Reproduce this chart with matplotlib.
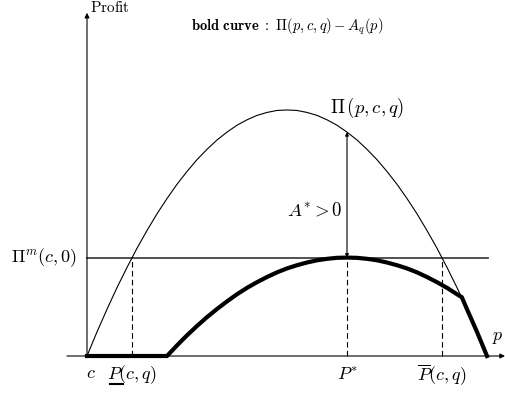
import numpy as np
import matplotlib
matplotlib.use("Agg")
import matplotlib.pyplot as plt

plt.rcParams['mathtext.fontset'] = 'cm'
plt.rcParams['font.family'] = 'serif'
plt.rcParams['font.serif'] = ['cmr10', 'DejaVu Serif']
plt.rcParams['axes.formatter.use_mathtext'] = True

# price grid (c = 0) and the thin profit curve Pi(p,c,q)
p_grid = [0, 0.25, 0.5, 0.75, 1, 1.25, 1.5, 1.75, 2, 2.25, 2.5, 2.75, 3, 3.25,
          3.5, 3.75, 4, 4.25, 4.5, 4.75, 5, 5.25, 5.5, 5.75, 6, 6.25, 6.5, 6.75,
          7, 7.25, 7.5, 7.75, 8, 8.25, 8.5, 8.75, 9, 9.25, 9.5, 9.75, 10]
profit = [0, 0.98, 1.9, 2.78, 3.6, 4.38, 5.1, 5.78, 6.4, 6.98, 7.5, 7.98, 8.4, 8.78,
          9.1, 9.38, 9.6, 9.78, 9.9, 9.98, 10, 9.98, 9.9, 9.78, 9.6, 9.38, 9.1, 8.78,
          8.4, 7.98, 7.5, 6.98, 6.4, 5.78, 5.1, 4.38, 3.6, 2.78, 1.9, 0.98, 0]

# bold curve Pi(p,c,q) - A_q(p)
bold_p = [0, 2, 2.25, 2.5, 2.75, 3, 3.25, 3.5, 3.75, 4, 4.25, 4.5, 4.75, 5, 5.25,
          5.5, 5.75, 6, 6.25, 6.5, 6.75, 7, 7.25, 7.5, 7.75, 8, 8.25, 8.5, 8.75,
          9, 9.25, 9.37, 9.5, 9.75, 10]
bold_v = [0, 0, 0.43, 0.84, 1.22, 1.58, 1.91, 2.22, 2.51, 2.77, 3.0, 3.21, 3.40,
          3.56, 3.69, 3.80, 3.89, 3.95, 3.99, 4.0, 3.99, 3.95, 3.89, 3.80, 3.69,
          3.56, 3.40, 3.21, 3.0, 2.77, 2.51, 2.39, 1.9, 0.98, 0]

pi_m = 4.0          # Pi^m(c,0)
p_low = 1.13        # underline P(c,q)
p_star = 6.5        # P*
p_high = 8.87       # overline P(c,q)
pi_at_star = 9.1

fig = plt.figure(figsize=(5.06, 3.98), dpi=100)
ax = fig.add_axes([0, 0, 1, 1])
ax.set_xlim(-2.175, 10.475)
ax.set_ylim(-1.707, 14.47)
ax.axis('off')

# axes with arrows
ax.annotate('', xy=(10.45, 0), xytext=(-0.5, 0),
            arrowprops=dict(arrowstyle='-|>', lw=0.8, color='black', mutation_scale=7,
                            shrinkA=0, shrinkB=0))
ax.annotate('', xy=(0, 13.95), xytext=(0, 0),
            arrowprops=dict(arrowstyle='-|>', lw=0.8, color='black', mutation_scale=7,
                            shrinkA=0, shrinkB=0))

# horizontal monopoly profit level
ax.plot([0, 10.02], [pi_m, pi_m], color='#444444', lw=1.3)

# thin profit curve
ax.plot(p_grid, profit, color='black', lw=0.8)

# dashed verticals
for xv in [p_low, p_star, p_high]:
    ax.plot([xv, xv], [0, pi_m], color='black', lw=0.8, ls=(0, (5, 3)))

# bold curve
ax.plot(bold_p, bold_v, color='black', lw=3.0, solid_joinstyle='miter')

# A* arrow
ax.annotate('', xy=(p_star, pi_at_star), xytext=(p_star, pi_m),
            arrowprops=dict(arrowstyle='<|-|>', lw=0.8, color='black', mutation_scale=5,
                            shrinkA=0, shrinkB=0))

# texts
ax.text(0.08, 14.15, r'$\mathrm{Profit}$', fontsize=11, ha='left', va='center')
ax.text(5.0, 13.4, r'$\mathbf{bold\ curve}\ :\ \Pi(p,c,q)-A_q(p)$', fontsize=10.5,
        ha='center', va='center')
ax.text(6.08, 10.1, r'$\Pi\,(p,c,q)$', fontsize=13.5, ha='left', va='center')
ax.text(6.4, 5.93, r'$A^{*}>0$', fontsize=13.5, ha='right', va='center')
ax.text(-0.25, 3.98, r'$\Pi^{m}(c,0)$', fontsize=13, ha='right', va='center')
ax.text(10.28, 0.73, r'$p$', fontsize=13, ha='center', va='center')
ax.text(0.1, -0.69, r'$c$', fontsize=13, ha='center', va='center')
ax.text(0.5, -0.77, r'$P(c,q)$', fontsize=13, ha='left', va='center')
ax.plot([0.58, 0.91], [-1.12, -1.12], color='black', lw=1.5)   # underline of P
ax.text(p_star, -0.77, r'$P^{*}$', fontsize=13, ha='center', va='center')
ax.text(8.88, -0.77, r'$\overline{P}(c,q)$', fontsize=13, ha='center', va='center')

fig.savefig('out.png', dpi=100)
